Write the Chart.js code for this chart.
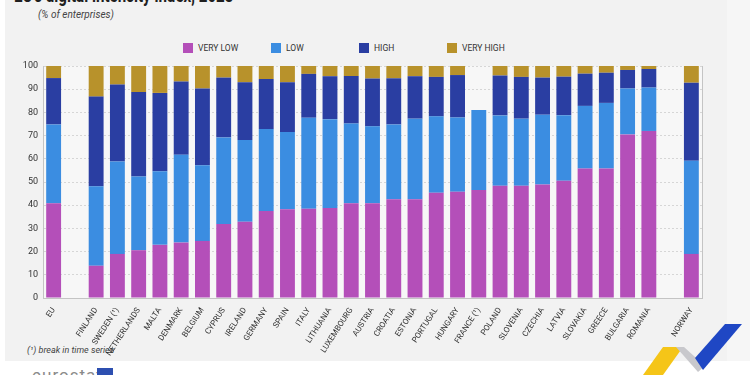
<!DOCTYPE html>
<html>
<head>
<meta charset="utf-8">
<script src="https://cdn.jsdelivr.net/npm/chart.js@4.4.0/dist/chart.umd.min.js"></script>
<style>
  html, body { margin: 0; padding: 0; background: #ffffff; }
  body { width: 750px; height: 375px; position: relative; overflow: hidden; font-family: "Liberation Sans Narrow", "Roboto", sans-serif; }
  .panel { position: absolute; left: 5px; top: 0; width: 722px; height: 361px; background: #f2f2f2; }
  .panel-right { position: absolute; left: 727px; top: 0; width: 23px; height: 361px; background: #f6f6f6; }
  .title { position: absolute; left: 14px; top: -17px; font-size: 21px; font-weight: bold; color: #1f1f1f; white-space: nowrap; transform: scaleX(0.72); transform-origin: left top; }
  .subtitle { position: absolute; left: 38px; top: 9px; font-size: 10px; font-style: italic; color: #444; }
  .footnote { position: absolute; left: 27px; top: 345px; font-size: 9px; font-style: italic; color: #444; }
  .legend { position: absolute; left: 183px; top: 43px; display: flex; }
  .legend-item { width: 88px; display: flex; align-items: center; font-size: 8.5px; color: #333; }
  .legend-box { width: 10px; height: 10px; margin-right: 5px; }
  .logo { position: absolute; left: 32px; top: 365px; font-size: 17px; color: #8a8a8a; letter-spacing: 1px; }
  .flag { position: absolute; left: 97px; top: 368px; width: 16px; height: 12px; background: #2d4fb0; }
  canvas { position: absolute; left: 0; top: 0; }
  svg { position: absolute; left: 0; top: 0; }
</style>
</head>
<body>
<div class="panel"></div>
<div class="panel-right"></div>
<div class="title">EU's digital intensity index, 2023</div>
<div class="subtitle">(% of enterprises)</div>
<div class="legend" id="legend"></div>
<div class="footnote">(¹) break in time series</div>
<div class="logo">eurostat</div>
<div class="flag"></div>
<svg width="750" height="375">
  <polygon points="643,375 663,347 683,347 663,375" fill="#f5c518"/>
  <polygon points="676,347 684,347 705,366 698,372" fill="#c8c8cc"/>
  <polygon points="695,358 725,324 742,324 703,370" fill="#1f47c4"/>
</svg>
<div style="position:absolute;left:0;top:0;width:750px;height:375px;">
  <canvas id="chart" width="750" height="375"></canvas>
</div>
<script>
  const categories = [
    "EU", "", "FINLAND", "SWEDEN (¹)", "NETHERLANDS", "MALTA", "DENMARK", "BELGIUM",
    "CYPRUS", "IRELAND", "GERMANY", "SPAIN", "ITALY", "LITHUANIA", "LUXEMBOURG",
    "AUSTRIA", "CROATIA", "ESTONIA", "PORTUGAL", "HUNGARY", "FRANCE (¹)", "POLAND",
    "SLOVENIA", "CZECHIA", "LATVIA", "SLOVAKIA", "GREECE", "BULGARIA", "ROMANIA",
    "", "NORWAY"
  ];

  const veryLow = [
    40.8, null, 13.9, 19.0, 20.6, 22.9, 23.9, 24.6,
    31.9, 32.9, 37.5, 38.3, 38.5, 38.8, 40.8,
    40.8, 42.6, 42.6, 45.4, 45.8, 46.6, 48.4,
    48.4, 48.9, 50.5, 55.8, 55.8, 70.5, 72.0,
    null, 19.0
  ];
  const low = [
    34.0, null, 34.3, 39.8, 31.8, 31.7, 37.8, 32.6,
    37.3, 35.2, 35.3, 33.2, 39.2, 38.3, 34.4,
    33.2, 32.2, 34.7, 32.9, 32.0, 34.4, 30.3,
    28.9, 30.1, 28.3, 27.0, 28.3, 19.8, 18.7,
    null, 40.2
  ];
  const high = [
    20.0, null, 38.6, 33.2, 36.4, 33.8, 31.6, 33.1,
    25.8, 24.9, 21.6, 21.5, 18.9, 18.5, 20.5,
    20.6, 19.9, 18.3, 17.0, 18.3, null, 17.2,
    18.0, 16.0, 16.6, 13.9, 13.0, 8.0, 8.0,
    null, 33.6
  ];
  const veryHigh = [
    5.2, null, 13.2, 8.0, 11.2, 11.6, 6.7, 9.7,
    5.0, 7.0, 5.6, 7.0, 3.4, 4.4, 4.3,
    5.4, 5.3, 4.4, 4.7, 3.9, null, 4.1,
    4.7, 5.0, 4.6, 3.3, 2.9, 1.7, 1.3,
    null, 7.2
  ];
  const yTicks = [0, 10, 20, 30, 40, 50, 60, 70, 80, 90, 100];

  const colors = {
    veryLow: "#b44fb9",
    low: "#3b8de1",
    high: "#2a3ea2",
    veryHigh: "#b8922b",
    text: "#333333",
    grid: "#d6d6d6",
    axis: "#c4c4c4",
    plotBg: "#f7f7f7",
  };

  const font = "'Liberation Sans Narrow', 'Roboto', sans-serif";

  // plot area background + right frame line
  const plotBackground = {
    id: "plotBackground",
    beforeDraw(chart) {
      const { ctx, chartArea } = chart;
      ctx.save();
      ctx.fillStyle = colors.plotBg;
      ctx.fillRect(chartArea.left, chartArea.top, chartArea.right - chartArea.left, chartArea.bottom - chartArea.top);
      ctx.restore();
    },
    afterDraw(chart) {
      const { ctx, chartArea } = chart;
      ctx.save();
      ctx.strokeStyle = colors.axis;
      ctx.lineWidth = 1;
      ctx.beginPath();
      ctx.moveTo(chartArea.right + 0.5, chartArea.top);
      ctx.lineTo(chartArea.right + 0.5, chartArea.bottom);
      ctx.stroke();
      ctx.restore();
    },
  };

  function makeDataset(label, data, color) {
    return {
      label: label,
      data: data,
      backgroundColor: color,
      borderWidth: 0,
      barPercentage: 0.7,
      categoryPercentage: 1.0,
    };
  }

  const chart = new Chart(document.getElementById("chart").getContext("2d"), {
    type: "bar",
    data: {
      labels: categories,
      datasets: [
        makeDataset("VERY LOW", veryLow, colors.veryLow),
        makeDataset("LOW", low, colors.low),
        makeDataset("HIGH", high, colors.high),
        makeDataset("VERY HIGH", veryHigh, colors.veryHigh),
      ],
    },
    options: {
      responsive: false,
      animation: false,
      layout: { padding: { left: 0, right: 48, top: 66, bottom: 0 } },
      scales: {
        x: {
          stacked: true,
          grid: { display: false },
          border: { display: true, color: colors.axis },
          ticks: {
            autoSkip: false,
            maxRotation: 57,
            minRotation: 57,
            color: colors.text,
            font: { family: font, size: 8 },
            padding: 0,
          },
          afterFit(scale) {
            scale.height = 77;
          },
        },
        y: {
          stacked: true,
          min: 0,
          max: 100,
          afterBuildTicks(scale) {
            scale.ticks = yTicks.map((v) => ({ value: v }));
          },
          grid: { color: colors.grid, drawTicks: false },
          border: { display: true, color: colors.axis, dash: [2, 2] },
          ticks: {
            color: colors.text,
            font: { family: font, size: 9 },
            padding: 5,
          },
          afterFit(scale) {
            scale.width = 43;
          },
        },
      },
      plugins: {
        legend: { display: false },
        title: { display: false },
        tooltip: { enabled: false },
      },
    },
    plugins: [plotBackground],
  });

  // html legend built from the chart datasets
  const legendEl = document.getElementById("legend");
  chart.data.datasets.forEach((ds) => {
    const item = document.createElement("div");
    item.className = "legend-item";
    item.innerHTML = `<span class="legend-box" style="background:${ds.backgroundColor}"></span><span>${ds.label}</span>`;
    legendEl.appendChild(item);
  });
</script>
</body>
</html>
